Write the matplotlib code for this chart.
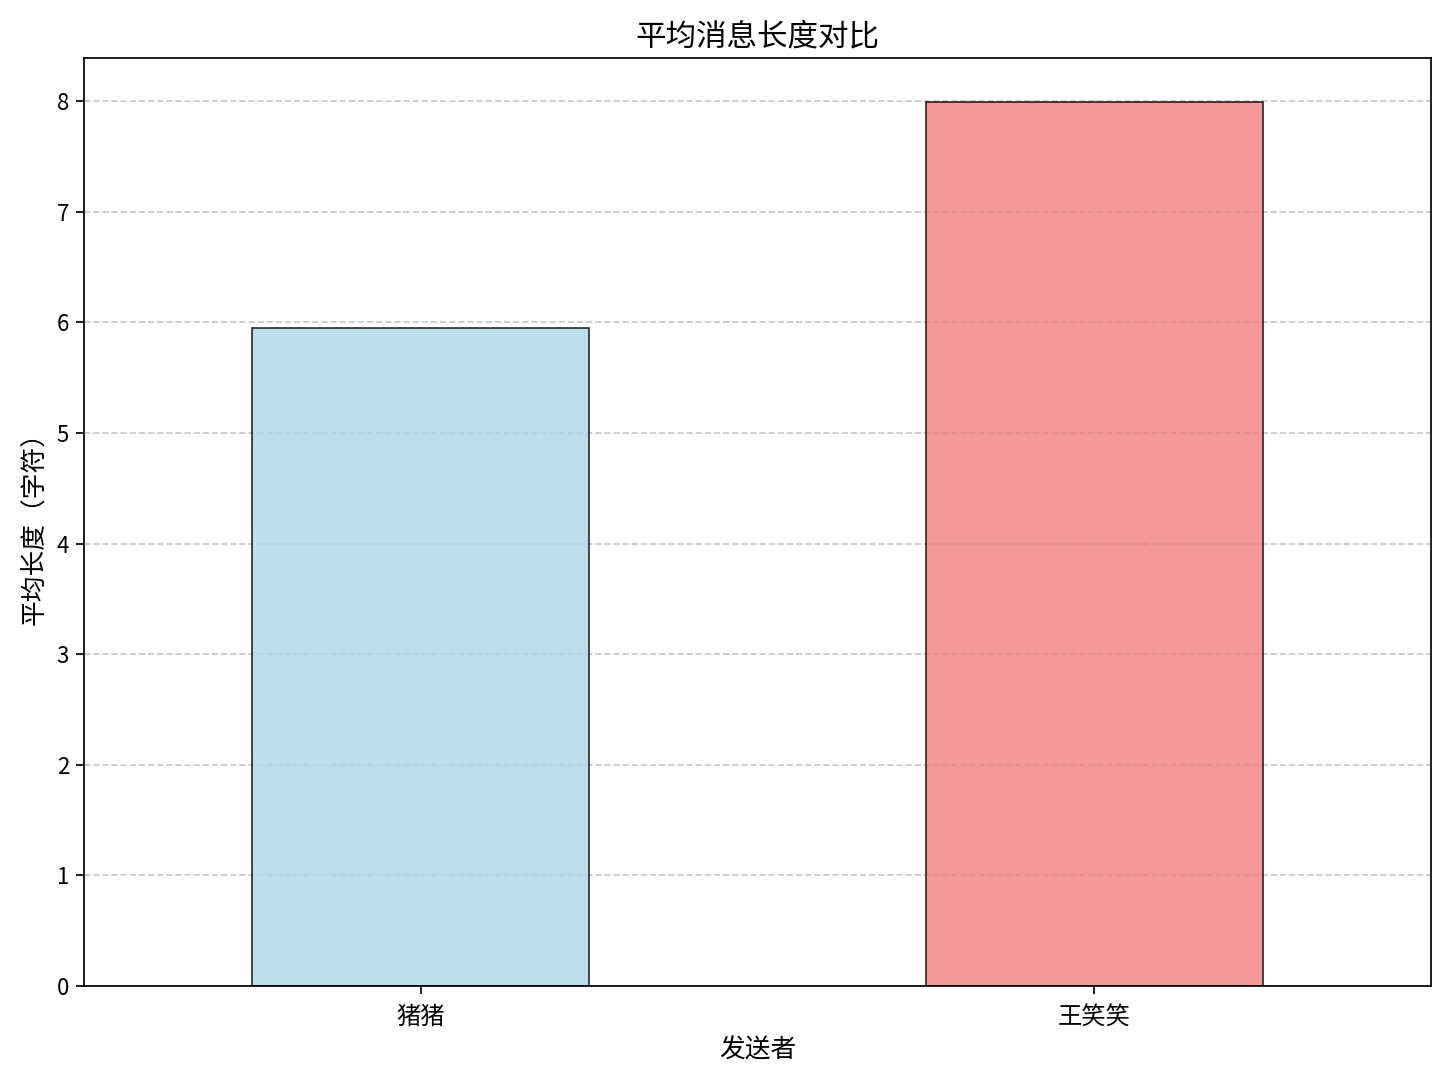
import matplotlib
matplotlib.use("Agg")
import matplotlib.pyplot as plt

plt.rcParams['font.family'] = ['Noto Sans CJK SC', 'DejaVu Sans']
plt.rcParams['axes.unicode_minus'] = False

# 数据
senders = ['猪猪', '王笑笑']
avg_len = [5.95, 7.99]
bar_colors = ['lightblue', 'lightcoral']

s = 1.55  # 线宽/刻度缩放
fig = plt.figure(figsize=(14.49, 10.8), dpi=100)
ax = fig.add_axes([0.058, 0.087, 0.9296, 0.8593])

x = range(len(senders))
ax.bar(x, avg_len, width=0.5, color=bar_colors, edgecolor='black',
       alpha=0.8, linewidth=0.8 * s, zorder=2)
ax.set_xlim(-0.5, len(senders) - 0.5)
ax.set_ylim(0, 8.39)
ax.set_xticks(list(x))
ax.set_xticklabels(senders, rotation=0)

ax.set_title('平均消息长度对比', fontsize=22, pad=9)
ax.set_xlabel('发送者', fontsize=18.5, labelpad=6)
ax.set_ylabel('平均长度（字符）', fontsize=18.5, labelpad=6)
ax.tick_params(labelsize=16, width=0.8 * s, length=3.5 * s, pad=3.5 * s)
ax.tick_params(axis='x', labelsize=17.5, pad=7)
for sp in ax.spines.values():
    sp.set_linewidth(0.8 * s)

ax.grid(axis='y', linestyle='--', alpha=0.7, linewidth=0.8 * s, zorder=0)

fig.savefig('out.png', dpi=100)
